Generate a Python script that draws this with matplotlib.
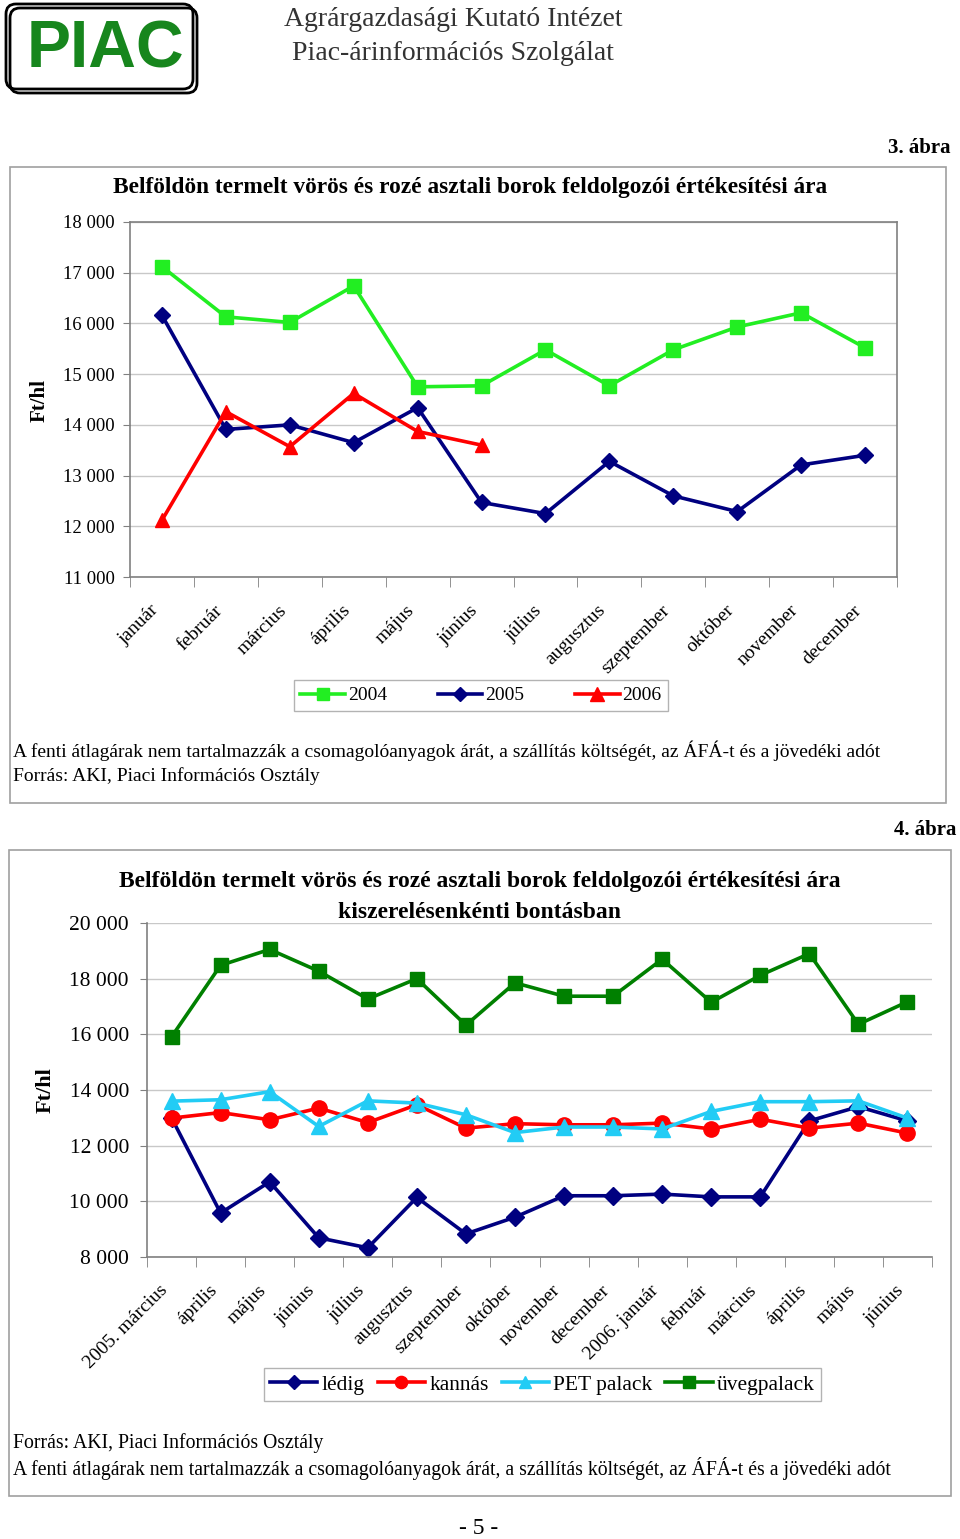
import matplotlib
matplotlib.use('Agg')
import matplotlib.pyplot as plt
from matplotlib.patches import Rectangle, FancyBboxPatch
from matplotlib.transforms import ScaledTranslation
import numpy as np

# --- data: 3. ábra (Ft/hl) ---
months1 = ['január', 'február', 'március', 'április', 'május', 'június',
           'július', 'augusztus', 'szeptember', 'október', 'november', 'december']
y2004 = [17120, 16130, 16020, 16740, 14750, 14770, 15480, 14770, 15480, 15930, 16210, 15520]
y2005 = [16160, 13910, 14000, 13650, 14340, 12470, 12250, 13280, 12600, 12290, 13210, 13400]
y2006 = [12120, 14260, 13570, 14620, 13870, 13600]
yticks1 = [11000, 12000, 13000, 14000, 15000, 16000, 17000, 18000]

# --- data: 4. ábra (Ft/hl) ---
months2 = ['2005. március', 'április', 'május', 'június', 'július', 'augusztus',
           'szeptember', 'október', 'november', 'december', '2006. január',
           'február', 'március', 'április', 'május', 'június']
ledig = [13000, 9580, 10700, 8690, 8330, 10140, 8830, 9430, 10200, 10200, 10260,
         10160, 10160, 12890, 13400, 12890]
kannas = [12990, 13190, 12930, 13350, 12830, 13470, 12630, 12790, 12750, 12750, 12810,
          12600, 12950, 12630, 12810, 12450]
pet = [13600, 13650, 13940, 12690, 13610, 13530, 13110, 12470, 12670, 12670, 12600,
       13230, 13580, 13580, 13610, 12990]
uveg = [15910, 18480, 19050, 18270, 17270, 18000, 16330, 17850, 17370, 17370, 18700,
        17150, 18120, 18900, 16360, 17170]
yticks2 = [8000, 10000, 12000, 14000, 16000, 18000, 20000]

W, H = 960, 1539
SERIF = ['Liberation Serif', 'DejaVu Serif']
plt.rcParams['font.family'] = SERIF

fig = plt.figure(figsize=(W / 100, H / 100), dpi=100)
fig.patch.set_facecolor('white')

# background layer in pixel coordinates
bg = fig.add_axes([0, 0, 1, 1])
bg.set_xlim(0, W)
bg.set_ylim(H, 0)
bg.axis('off')


def box(left, top, right, bottom):
    return [left / W, 1 - bottom / H, (right - left) / W, (bottom - top) / H]


def fmt(v):
    return f'{v:,}'.replace(',', ' ')


# logo
bg.add_patch(FancyBboxPatch((6, 4), 187, 85, boxstyle='round,pad=0,rounding_size=10',
                            fill=False, ec='black', lw=2))
bg.add_patch(FancyBboxPatch((10, 8), 187, 85, boxstyle='round,pad=0,rounding_size=10',
                            fill=False, ec='black', lw=2))
bg.text(105, 50, 'PIAC', family='Liberation Sans', weight='bold', fontsize=47.5,
        color='#17861d', ha='center', va='center')
bg.text(453, 20, 'Agrárgazdasági Kutató Intézet', fontsize=20, color='#333333',
        ha='center', va='center')
bg.text(453, 53, 'Piac-árinformációs Szolgálat', fontsize=20, color='#333333',
        ha='center', va='center')

# chart frames
bg.add_patch(Rectangle((10, 167), 936, 636, fill=False, ec='#a0a0a0', lw=1.2))
bg.add_patch(Rectangle((9, 850), 942, 646, fill=False, ec='#a0a0a0', lw=1.2))

bg.text(951, 148, '3. ábra', fontsize=15, weight='bold', ha='right', va='center')
bg.text(956, 830, '4. ábra', fontsize=15, weight='bold', ha='right', va='center')

title = 'Belföldön termelt vörös és rozé asztali borok feldolgozói értékesítési ára'
bg.text(470, 187, title, fontsize=16.8, weight='bold', ha='center', va='center')
bg.text(480, 882, title, fontsize=17, weight='bold', ha='center', va='center')
bg.text(480, 912, 'kiszerelésenkénti bontásban', fontsize=17, weight='bold',
        ha='center', va='center')

note = 'A fenti átlagárak nem tartalmazzák a csomagolóanyagok árát, a szállítás költségét, az ÁFÁ-t és a jövedéki adót'
src = 'Forrás: AKI, Piaci Információs Osztály'
bg.text(13, 751, note, fontsize=14, ha='left', va='center')
bg.text(13, 776, src, fontsize=14, ha='left', va='center')
bg.text(13, 1443, src, fontsize=14.2, ha='left', va='center')
bg.text(13, 1468, note, fontsize=14.2, ha='left', va='center')
bg.text(479, 1529, '- 5 -', fontsize=17, ha='center', va='center')

bg.text(40, 400, 'Ft/hl', fontsize=15, weight='bold', rotation=90, ha='center', va='center')
bg.text(46, 1090, 'Ft/hl', fontsize=16, weight='bold', rotation=90, ha='center', va='center')

GRID = '#c8c8c8'
SPINE = '#808080'
shift = ScaledTranslation(-6 / 100, -3 / 100, fig.dpi_scale_trans)

# ---------------- chart 1 ----------------
ax1 = fig.add_axes(box(130, 222, 897, 577))
x1 = np.arange(len(months1))
l04, = ax1.plot(x1, y2004, color='#22ee22', lw=2.6, marker='s', ms=10, mec='#22ee22', clip_on=False)
l05, = ax1.plot(x1, y2005, color='#000080', lw=2.6, marker='D', ms=8, mec='#000080', clip_on=False)
l06, = ax1.plot(np.arange(len(y2006)), y2006, color='#ff0000', lw=2.6, marker='^', ms=10.5,
                mec='#ff0000', clip_on=False)
ax1.set_xlim(-0.5, len(months1) - 0.5)
ax1.set_ylim(11000, 18000)
ax1.set_yticks(yticks1)
ax1.set_yticklabels([fmt(v) for v in yticks1], fontsize=13.5)
ax1.set_xticks(x1)
ax1.set_xticklabels(months1, rotation=45, ha='right', va='center', rotation_mode='anchor', fontsize=14)
ax1.set_xticks(np.arange(-0.5, len(months1)), minor=True)
ax1.tick_params(axis='x', which='major', length=0, pad=20)
ax1.tick_params(axis='x', which='minor', length=7, color=SPINE, direction='out')
ax1.tick_params(axis='y', length=5, color=SPINE, pad=6)
ax1.grid(axis='y', color=GRID, lw=1)
ax1.set_axisbelow(True)
for s in ax1.spines.values():
    s.set_color(SPINE)
    s.set_linewidth(1.2)
for lbl in ax1.get_xticklabels():
    lbl.set_transform(lbl.get_transform() + shift)

leg1 = fig.legend([l04, l05, l06], ['2004', '2005', '2006'], loc='center',
                  bbox_to_anchor=(481 / W, 1 - 695.5 / H), ncol=3, fontsize=14,
                  frameon=True, fancybox=False, edgecolor='#a0a0a0', handlelength=2.3,
                  handletextpad=0.15, columnspacing=2.6, borderpad=0.35, borderaxespad=0,
                  markerscale=0.9)
leg1.get_frame().set_linewidth(1)

# ---------------- chart 2 ----------------
ax2 = fig.add_axes(box(147, 923, 932, 1257))
x2 = np.arange(len(months2))
h1, = ax2.plot(x2, ledig, color='#000080', lw=2.6, marker='D', ms=9, mec='#000080', clip_on=False)
h2, = ax2.plot(x2, kannas, color='#ff0000', lw=2.6, marker='o', ms=11, mec='#ff0000', clip_on=False)
h3, = ax2.plot(x2, pet, color='#22ccf5', lw=2.6, marker='^', ms=11, mec='#22ccf5', clip_on=False)
h4, = ax2.plot(x2, uveg, color='#008000', lw=2.6, marker='s', ms=10, mec='#008000', clip_on=False)
ax2.set_xlim(-0.5, len(months2) - 0.5)
ax2.set_ylim(8000, 20000)
ax2.set_yticks(yticks2)
ax2.set_yticklabels([fmt(v) for v in yticks2], fontsize=15.5)
ax2.set_xticks(x2)
ax2.set_xticklabels(months2, rotation=45, ha='right', va='center', rotation_mode='anchor', fontsize=14)
ax2.set_xticks(np.arange(-0.5, len(months2)), minor=True)
ax2.tick_params(axis='x', which='major', length=0, pad=20)
ax2.tick_params(axis='x', which='minor', length=7, color=SPINE, direction='out')
ax2.tick_params(axis='y', length=5, color=SPINE, pad=8)
ax2.grid(axis='y', color=GRID, lw=1)
ax2.set_axisbelow(True)
ax2.spines['top'].set_visible(False)
ax2.spines['right'].set_visible(False)
for s in ['left', 'bottom']:
    ax2.spines[s].set_color(SPINE)
    ax2.spines[s].set_linewidth(1.2)
for lbl in ax2.get_xticklabels():
    lbl.set_transform(lbl.get_transform() + shift)

leg2 = fig.legend([h1, h2, h3, h4], ['lédig', 'kannás', 'PET palack', 'üvegpalack'], loc='center',
                  bbox_to_anchor=(542.5 / W, 1 - 1384.5 / H), ncol=4, fontsize=15.5,
                  frameon=True, fancybox=False, edgecolor='#a0a0a0', handlelength=2.2,
                  handletextpad=0.2, columnspacing=0.6, borderpad=0.3, borderaxespad=0,
                  markerscale=0.8)
leg2.get_frame().set_linewidth(1)

fig.savefig('out.png', dpi=100)
